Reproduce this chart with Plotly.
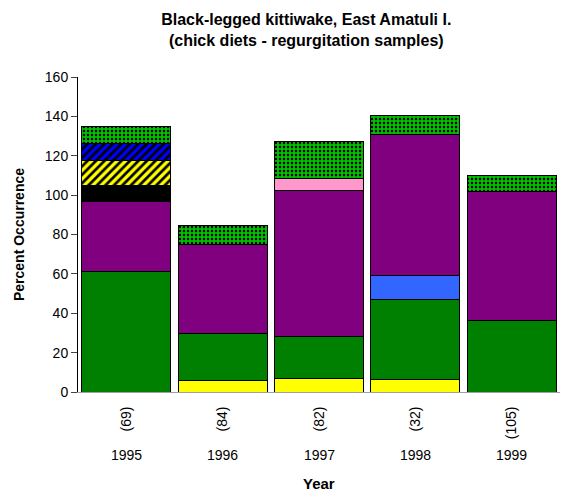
import plotly.graph_objects as go

years = ["1995", "1996", "1997", "1998", "1999"]
sample_sizes = ["(69)", "(84)", "(82)", "(32)", "(105)"]

# stacked prey categories (percent occurrence), bottom to top
prey_yellow = [None, 5.7, 6.9, 6.4, None]
prey_green = [61.0, 24.1, 21.1, 40.6, 36.4]
prey_lightblue = [None, None, None, 12.2, None]
prey_purple = [36.0, 45.0, 74.5, 71.8, 65.6]
prey_black = [7.7, None, None, None, None]
prey_yellow_hatch = [13.1, None, None, None, None]
prey_blue_hatch = [8.6, None, None, None, None]
prey_pink = [None, None, 6.0, None, None]
prey_other = [8.6, 9.8, 18.5, 9.5, 7.8]

series = [
    ("Prey 1", prey_yellow, "#FFFF00", None),
    ("Prey 2", prey_green, "#008000", None),
    ("Prey 3", prey_lightblue, "#3366FF", None),
    ("Prey 4", prey_purple, "#800080", None),
    ("Prey 5", prey_black, "#000000", None),
    ("Prey 6", prey_yellow_hatch, "#FFFF00", "/"),
    ("Prey 7", prey_blue_hatch, "#0000FF", "/"),
    ("Prey 8", prey_pink, "#FF99CC", None),
    ("Other", prey_other, "#00C000", "."),
]

fig = go.Figure()
for name, vals, col, pat in series:
    marker = dict(color=col, line=dict(color="#000000", width=1))
    if pat:
        if pat == ".":
            marker["pattern"] = dict(shape=".", fgcolor="#000000", bgcolor=col,
                                     size=4, solidity=0.3, fillmode="replace")
        else:
            marker["pattern"] = dict(shape="/", fgcolor="#000000", bgcolor=col,
                                     size=6, solidity=0.45, fillmode="replace")
    fig.add_trace(go.Bar(x=years, y=vals, name=name, marker=marker))

font_family = "Liberation Sans, Arial, sans-serif"

annotations = []
for i, yr in enumerate(years):
    annotations.append(dict(x=i, y=-0.2, xref="x", yref="paper", text=yr,
                            showarrow=False, yanchor="middle",
                            font=dict(size=14, color="#000")))
annotations.append(dict(x=0.5, y=-0.289, xref="paper", yref="paper",
                        text="<b>Year</b>", showarrow=False, yanchor="middle",
                        font=dict(size=15, color="#000")))

fig.update_layout(
    width=562, height=495,
    barmode="stack", bargap=0.075,
    showlegend=False,
    plot_bgcolor="#FFFFFF", paper_bgcolor="#FFFFFF",
    font=dict(family=font_family, size=14, color="#000"),
    margin=dict(l=78, r=2, t=77, b=103),
    title=dict(text="<b>Black-legged kittiwake, East Amatuli I.<br>(chick diets - regurgitation samples)</b>",
               x=0.545, xanchor="center", y=0.95, yanchor="top",
               font=dict(size=16, color="#000")),
    xaxis=dict(
        type="category", automargin=False, range=[-0.5, 4.5],
        tickmode="array", tickvals=years, ticktext=sample_sizes,
        tickangle=-90, ticks="", ticklabelstandoff=8,
        showline=True, linecolor="#A0A0A0", linewidth=1,
        showgrid=False, tickfont=dict(size=14),
    ),
    yaxis=dict(
        automargin=False,
        range=[0, 160], dtick=20, ticks="outside", ticklen=6,
        showline=True, linecolor="#000", linewidth=1,
        showgrid=False, zeroline=False,
        tickfont=dict(size=14),
        title=dict(text="<b>Percent Occurrence</b>", font=dict(size=14), standoff=16),
    ),
    annotations=annotations,
)

fig.write_html("out.html", post_script="document.body.style.margin='0';",
               config={"displayModeBar": False})
